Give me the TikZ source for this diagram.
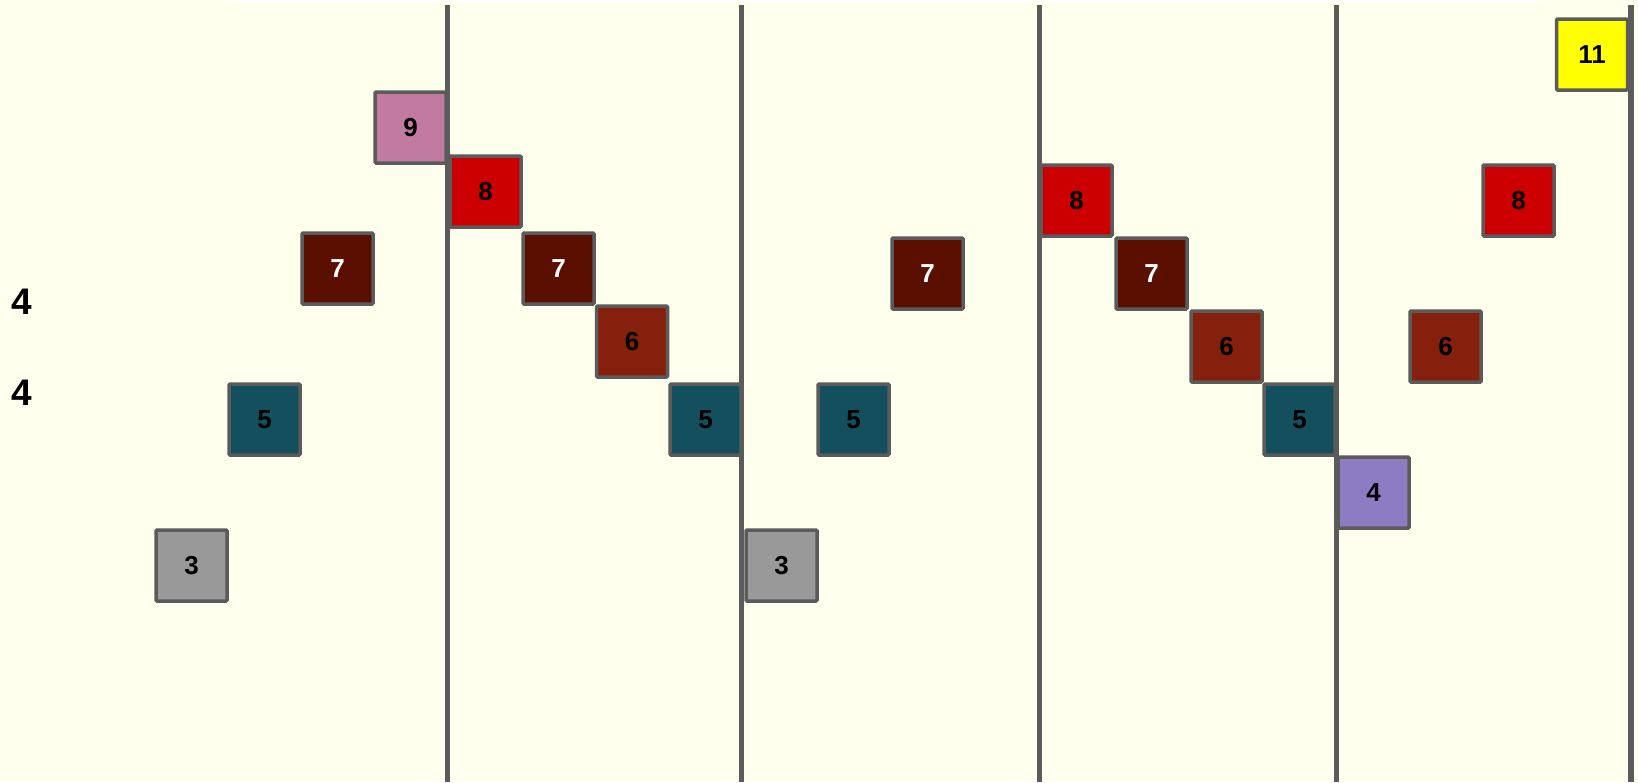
\documentclass[tikz,border=0pt]{standalone}
\usepackage{fontspec}
\setmainfont{Liberation Sans}
\definecolor{bg}{HTML}{FFFFEE}
\definecolor{bordergray}{HTML}{5B5B5B}
\definecolor{cpink}{HTML}{C27BA0}
\definecolor{cred}{HTML}{CC0000}
\definecolor{cdark}{HTML}{5B0F00}
\definecolor{cbrown}{HTML}{85200C}
\definecolor{cteal}{HTML}{134F5C}
\definecolor{cgray}{HTML}{999999}
\definecolor{cpurple}{HTML}{8E7CC3}
\definecolor{cyellow}{HTML}{FFFF00}
\tikzset{
  cell/.style={draw=bordergray, line width=3.5pt, rounded corners=1pt, minimum size=71pt, inner sep=0pt, font=\bfseries\fontsize{26}{30}\selectfont, text=black},
  lane/.style={draw=bordergray, line width=5.5pt},
  sidelabel/.style={font=\bfseries\fontsize{37}{40}\selectfont, text=black, inner sep=0pt}
}
\begin{document}
\begin{tikzpicture}[x=1pt,y=-1pt]
\fill[bg] (0,0) rectangle (1638,782);
\fill[white] (228,0) rectangle (1542,2);
\useasboundingbox (0,0) rectangle (1638,782);
% lanes
\foreach \n/\x in {l1/447.5,l2/741.5,l3/1039.5,l4/1336.5,l5/1631} {
  \coordinate (\n top) at (\x,4.5);
  \coordinate (\n bot) at (\x,782);
  \draw[lane] (\n top) -- (\n bot);
}
% side labels
\node[sidelabel] (s1) at (22,302) {4};
\node[sidelabel] (s2) at (22,393) {4};
% cells
\node[cell, fill=cpink] (c9) at (410.5,127.5) {9};
\node[cell, fill=cred] (c8a) at (485.5,191.5) {8};
\node[cell, fill=cdark, text=white] (c7a) at (337.5,268.5) {7};
\node[cell, fill=cdark, text=white] (c7b) at (558.5,268.5) {7};
\node[cell, fill=cbrown] (c6a) at (632,341.5) {6};
\node[cell, fill=cteal] (c5a) at (264.5,419.5) {5};
\node[cell, fill=cteal] (c5b) at (705.5,419.5) {5};
\node[cell, fill=cgray] (c3a) at (191.5,565.5) {3};
\node[cell, fill=cgray] (c3b) at (781.5,565.5) {3};
\node[cell, fill=cteal] (c5c) at (853.5,419.5) {5};
\node[cell, fill=cdark, text=white] (c7c) at (927.5,273.5) {7};
\node[cell, fill=cred] (c8b) at (1076.5,200.5) {8};
\node[cell, fill=cdark, text=white] (c7d) at (1151.5,273.5) {7};
\node[cell, fill=cbrown] (c6b) at (1226.5,346.5) {6};
\node[cell, fill=cteal] (c5d) at (1299.5,419.5) {5};
\node[cell, fill=cpurple] (c4) at (1373.5,492.5) {4};
\node[cell, fill=cbrown] (c6c) at (1445.5,346.5) {6};
\node[cell, fill=cred] (c8c) at (1518.5,200.5) {8};
\node[cell, fill=cyellow] (c11) at (1592,54.5) {11};
\end{tikzpicture}
\end{document}
